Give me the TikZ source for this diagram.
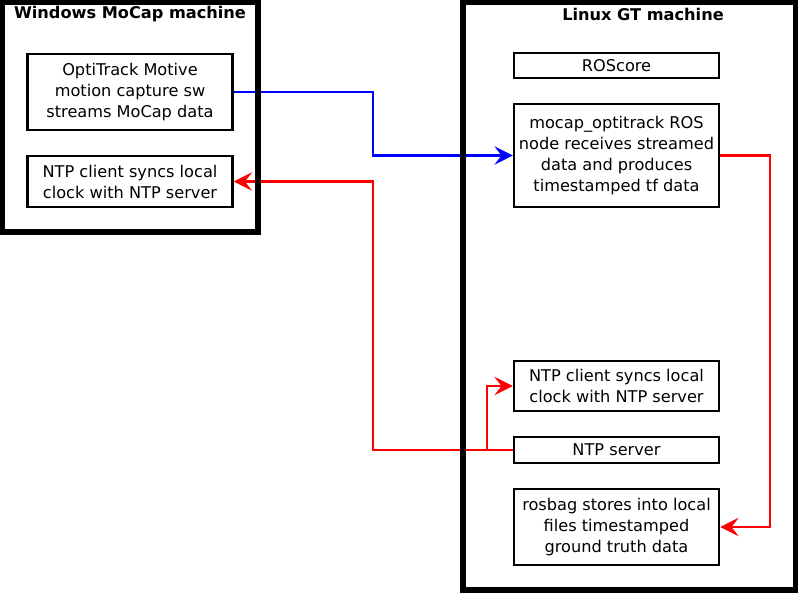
\documentclass[tikz,border=0pt]{standalone}
\usepackage{fontspec}
\setmainfont{DejaVu Sans}
\usetikzlibrary{arrows.meta}

\tikzset{
  procbox/.style={draw, line width=1.7pt, rectangle, align=center, inner sep=0pt,
    minimum width=5.125cm, font=\fontsize{11.5}{14.9}\selectfont},
  machine/.style={draw, line width=4pt},
  title/.style={font=\fontsize{11.5}{14}\selectfont\bfseries},
  link/.style={line width=1.9pt, -{Stealth[length=13pt, width=13pt, inset=5pt]}}
}

\begin{document}
\begin{tikzpicture}[x=0.025cm, y=-0.025cm]
\useasboundingbox (0,0) rectangle (800,595);

\node[title] (wintitle) at (130,14) {Windows MoCap machine};
\node[title] (lintitle) at (643,14) {Linux GT machine};

\node[procbox, minimum height=1.9cm] (opti) at (130,92)
  {OptiTrack Motive\\motion capture sw\\streams MoCap data};
\node[procbox, minimum height=1.275cm] (ntpwin) at (130,181.5)
  {NTP client syncs local\\clock with NTP server};

\node[procbox, minimum height=0.625cm] (roscore) at (616.5,65.5) {ROScore};
\node[procbox, minimum height=2.575cm] (mocap) at (616.5,155.5)
  {mocap\_optitrack ROS\\node receives streamed\\data and produces\\timestamped tf data};
\node[procbox, minimum height=1.25cm] (ntpcli) at (616.5,386)
  {NTP client syncs local\\clock with NTP server};
\node[procbox, minimum height=0.65cm] (ntpsrv) at (616.5,450) {NTP server};
\node[procbox, minimum height=1.9cm] (rosbag) at (616.5,527)
  {rosbag stores into local\\files timestamped\\ground truth data};

\coordinate (midbus) at (373,300);
\coordinate (split) at (487,450);
\coordinate (rightbus) at (770,300);

\draw[link, blue] (opti.east) -- (opti.east -| midbus) -- (mocap.west -| midbus) -- (mocap.west);
\draw[link, red] (ntpsrv.west) -- (ntpsrv.west -| midbus) -- (ntpwin.east -| midbus) -- (ntpwin.east);
\draw[link, red] (split) |- (ntpcli.west);
\draw[link, red] (mocap.east) -- (mocap.east -| rightbus) -- (rosbag.east -| rightbus) -- (rosbag.east);

\draw[machine] (2.5,2.5) rectangle (258,232);
\draw[machine] (463,2.5) rectangle (795.5,590);
\end{tikzpicture}
\end{document}
